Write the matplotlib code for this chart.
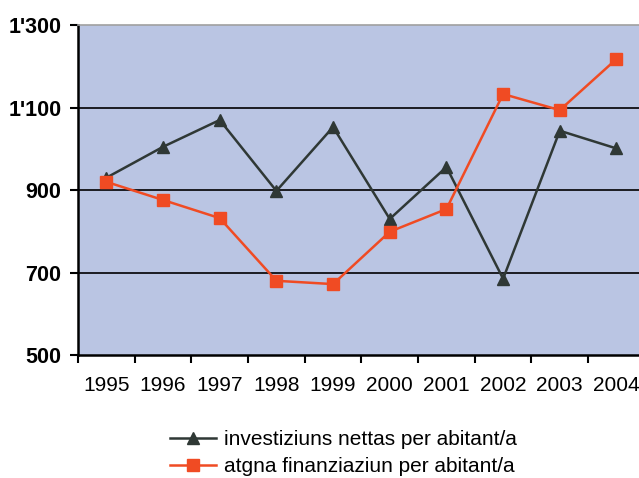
import matplotlib
matplotlib.use("Agg")
import matplotlib.pyplot as plt
from matplotlib.ticker import FixedLocator, NullFormatter

plt.rcParams['font.family'] = ['Liberation Sans', 'DejaVu Sans']

years = ['1995', '1996', '1997', '1998', '1999', '2000', '2001', '2002', '2003', '2004']
investiziuns = [930, 1005, 1070, 898, 1053, 830, 956, 685, 1044, 1001]
finanziaziun = [920, 876, 832, 680, 672, 799, 854, 1133, 1094, 1218]
y_ticks = [500, 700, 900, 1100, 1300]
y_labels = ["500", "700", "900", "1'100", "1'300"]

dark = '#2f3835'
red = '#f04b23'

fig = plt.figure(figsize=(6.39, 4.78), dpi=100)
ax = fig.add_axes([0.1221, 0.2573, 0.887, 0.690])
ax.set_facecolor('#bac5e3')

x = list(range(len(years)))
ax.plot(x, investiziuns, color=dark, linewidth=1.8, marker='^', markersize=8,
        label='investiziuns nettas per abitant/a', zorder=3)
ax.plot(x, finanziaziun, color=red, linewidth=1.8, marker='s', markersize=8,
        label='atgna finanziaziun per abitant/a', zorder=3)

ax.set_xlim(-0.5, len(years) - 0.5)
ax.set_ylim(500, 1300)

for v in y_ticks[1:-1]:
    ax.axhline(v, color='black', linewidth=1.2, zorder=1)

ax.set_yticks(y_ticks)
ax.set_yticklabels(y_labels, fontsize=15.5, fontweight='bold')
ax.tick_params(axis='y', direction='out', length=6, width=1.5, pad=6)

# tick marks between categories, labels centered on categories
ax.xaxis.set_major_locator(FixedLocator([i - 0.5 for i in range(len(years) + 1)]))
ax.xaxis.set_major_formatter(NullFormatter())
ax.xaxis.set_minor_locator(FixedLocator(x))
ax.set_xticklabels(years, minor=True, fontsize=15)
ax.tick_params(axis='x', which='major', direction='out', length=6, width=1.5)
ax.tick_params(axis='x', which='minor', length=0, pad=15)

ax.spines['left'].set_linewidth(1.8)
ax.spines['bottom'].set_linewidth(1.8)
ax.spines['top'].set_color('#a0a0a0')
ax.spines['top'].set_linewidth(1.2)
ax.spines['right'].set_visible(False)

fig.legend(loc='upper center', bbox_to_anchor=(0.538, 0.118), frameon=False,
           fontsize=15, handlelength=2.2, handletextpad=0.4, labelspacing=0.4,
           borderaxespad=0)

fig.savefig('out.png', dpi=100)
